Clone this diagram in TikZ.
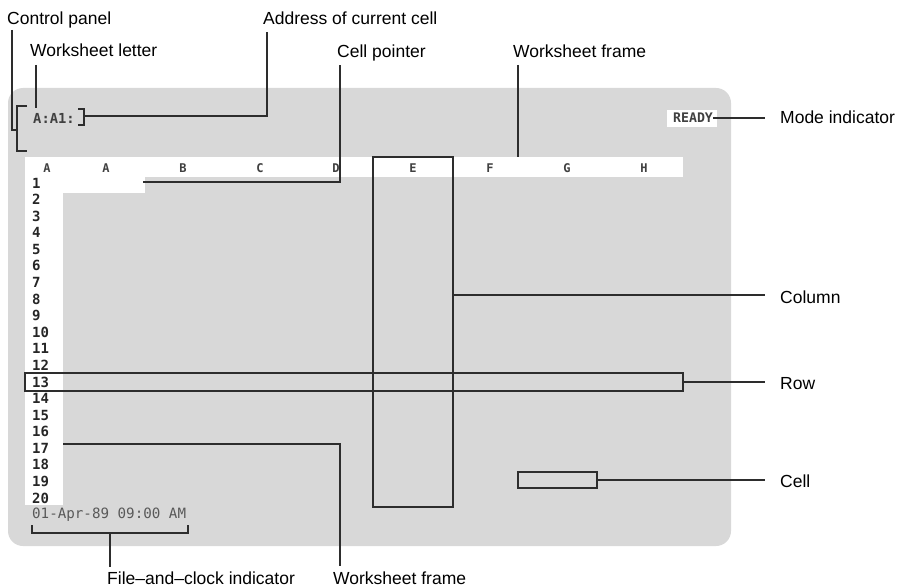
\documentclass[tikz,border=0pt]{standalone}
\usepackage{fontspec}
\setmainfont{Liberation Sans}
\newfontfamily\scr{DejaVu Sans Mono}
\definecolor{panel}{RGB}{216,216,216}
\definecolor{ink}{RGB}{45,45,45}
\begin{document}
\begin{tikzpicture}[x=1pt,y=-1pt,
  lbl/.style={anchor=base west, inner sep=0pt, font=\fontsize{17.5}{20}\selectfont, text=black},
  lead/.style={draw=ink, line width=1.3pt},
  hilite/.style={draw=ink, line width=1.3pt, inner sep=0pt},
  hdr/.style={font=\scr\bfseries\fontsize{12}{12}\selectfont, text=black!75, inner sep=0pt},
  rown/.style={font=\scr\bfseries\fontsize{14}{14}\selectfont, anchor=west, inner sep=0pt, text=black!85},
  scrtxt/.style={font=\scr\bfseries\fontsize{13.8}{14}\selectfont, anchor=west, inner sep=0pt, text=black!75}
  ]
\useasboundingbox (0,0) rectangle (897,588);
\fill[white] (0,0) rectangle (897,588);
% screen panel
\fill[panel, rounded corners=15pt] (8,88) rectangle (731,546);
\fill[white] (25,157) rectangle (683,177);
\fill[white] (25,157) rectangle (63,505);
\fill[white] (63,177) rectangle (145,193);
\fill[white] (667,110) rectangle (717,127);
% header letters
\foreach \l/\x [count=\i] in {A/47,A/106,B/183,C/260,D/336,E/413,F/490,G/567,H/644}
  \node[hdr] (h\i) at (\x,168) {\l};
% row numbers
\foreach \r in {1,...,20}
  \node[rown] (r\r) at (32,{183+(\r-1)*16.58}) {\r};
% screen texts
\node[scrtxt] (addr) at (33,118) {A:A1:};
\node[scrtxt, font=\scr\bfseries\fontsize{13.2}{14}\selectfont] (ready) at (673,118) {READY};
\node[scrtxt, font=\scr\fontsize{14.2}{14}\selectfont, text=black!65] (date) at (32,515) {01-Apr-89 09:00 AM};
% highlight boxes
\node[hilite, minimum width=658pt, minimum height=18pt] (rowbox) at (354,382) {};
\node[hilite, minimum width=80pt, minimum height=350pt] (colbox) at (413,332) {};
\node[hilite, minimum width=79pt, minimum height=16pt] (cellbox) at (557.5,480) {};
% labels
\node[lbl] (lcp) at (7,25) {Control panel};
\node[lbl] (laddr) at (263,25) {Address of current cell};
\node[lbl] (lwl) at (30,57) {Worksheet letter};
\node[lbl] (lptr) at (337,58) {Cell pointer};
\node[lbl] (lwf) at (513,58) {Worksheet frame};
\node[lbl] (lmode) at (780,124) {Mode indicator};
\node[lbl] (lcol) at (780,303) {Column};
\node[lbl] (lrow) at (780,389) {Row};
\node[lbl] (lcell) at (780,487) {Cell};
\node[lbl] (lfc) at (107,584) {File–and–clock indicator};
\node[lbl] (lwf2) at (333,584) {Worksheet frame};
% coordinates
\coordinate (cpA) at (12,30);
\coordinate (cpB) at (17,130);
\coordinate (brT) at (27,106);
\coordinate (brTL) at (17,106);
\coordinate (brBL) at (17,151);
\coordinate (brB) at (27,151);
\coordinate (wlA) at (36,65);
\coordinate (wlB) at (36,108);
\coordinate (ab1) at (78,109);
\coordinate (ab2) at (84,109);
\coordinate (ab3) at (84,125);
\coordinate (ab4) at (78,125);
\coordinate (adA) at (84,116);
\coordinate (adB) at (267,32);
\coordinate (ptA) at (143,182);
\coordinate (ptB) at (340,65);
\coordinate (wfA) at (518,65);
\coordinate (wfB) at (518,157);
\coordinate (mdE) at (765,118);
\coordinate (colE) at (765,295);
\coordinate (rowE) at (765,382);
\coordinate (cellE) at (765,480);
\coordinate (dbA) at (32,525);
\coordinate (dbB) at (188,533);
\coordinate (dbC) at (188,525);
\coordinate (dsA) at (110,533);
\coordinate (dsB) at (110,567);
\coordinate (wf2A) at (63,444);
\coordinate (wf2B) at (340,566);
% connectors
\draw[lead] (cpA) |- (cpB);
\draw[lead] (brT) -- (brTL) -- (brBL) -- (brB);
\draw[lead] (wlA) -- (wlB);
\draw[lead] (ab1) -- (ab2) -- (ab3) -- (ab4);
\draw[lead] (adA) -| (adB);
\draw[lead] (ptA) -| (ptB);
\draw[lead] (wfA) -- (wfB);
\draw[lead] (ready.east) -- (mdE);
\draw[lead] (colbox.east |- colE) -- (colE);
\draw[lead] (rowbox.east) -- (rowE);
\draw[lead] (cellbox.east) -- (cellE);
\draw[lead] (dbA) |- (dbB) -- (dbC);
\draw[lead] (dsA) -- (dsB);
\draw[lead] (wf2A) -| (wf2B);
\end{tikzpicture}
\end{document}
